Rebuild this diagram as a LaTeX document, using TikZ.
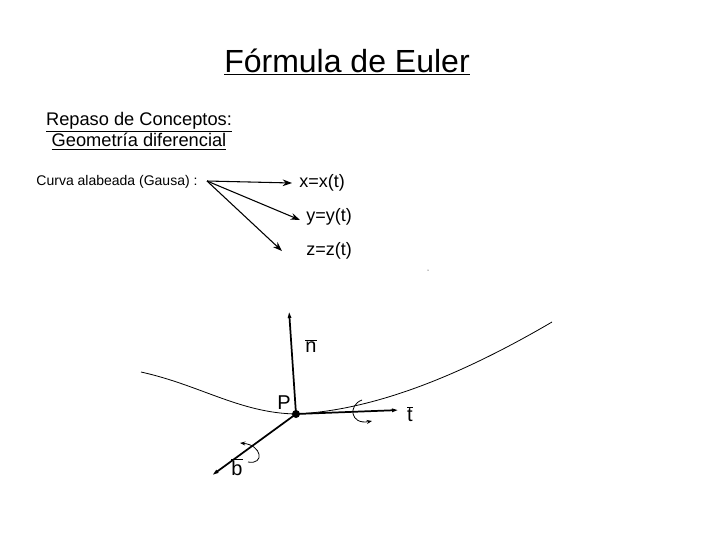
\documentclass[tikz,border=0pt]{standalone}
\usepackage{fontspec}
\setmainfont{Liberation Sans}
\usetikzlibrary{arrows.meta}
\begin{document}
\begin{tikzpicture}[x=0.75pt,y=-0.75pt,
  arr/.style={-{Stealth[length=7pt,width=5pt]},line width=0.8pt},
  vec/.style={-{Latex[length=6pt,width=3pt]},line width=1.3pt},
  lbl/.style={inner sep=0pt,font=\fontsize{13.5}{13.5}\selectfont}]
\useasboundingbox (0,0) rectangle (720,540);
\node[inner sep=0pt,font=\fontsize{24}{24}\selectfont] (title) at (347,62) {\underline{Fórmula de Euler}};
\node[inner sep=0pt,align=center,font=\fontsize{13.7}{14}\selectfont] (rep) at (139,131) {\underline{Repaso de Conceptos:}\\\underline{Geometría diferencial}};
\node[inner sep=0pt,font=\fontsize{10.5}{11}\selectfont] (curva) at (117,182) {Curva alabeada (Gausa) :};
\coordinate (o) at (207,181);
\node[lbl] (x) at (322,183) {x=x(t)};
\node[lbl] (y) at (329,217) {y=y(t)};
\node[lbl] (z) at (329,251) {z=z(t)};
\draw[arr] (o) -- (292,183);
\draw[arr] (o) -- (300,220);
\draw[arr] (o) -- (282,251);
\fill (428,270) circle (0.5);
% curve
\draw[line width=0.6pt] (141,372) .. controls (200,385) and (240,413) .. (296,414)
  .. controls (380,410) and (470,370) .. (552,322);
\coordinate (P) at (296,414);
\fill (P) circle (4);
\draw[vec] (P) -- (289,310);
\draw[vec] (P) -- (400,410);
\draw[vec] (P) -- (211,476);
\node[lbl,font=\fontsize{15}{15}\selectfont] (n) at (311,346) {$\overline{\mbox{n}}$};
\node[lbl,font=\fontsize{15}{15}\selectfont] (t) at (410,414) {$\overline{\mbox{t}}$};
\node[lbl,font=\fontsize{15}{15}\selectfont] (b) at (237,467) {$\overline{\mbox{b}}$};
\node[lbl,font=\fontsize{15}{15}\selectfont] (p) at (284,403) {P};
% rotation arrows
\draw[line width=0.6pt,-{Stealth[length=4pt]}] (362,400) .. controls (348,405) and (350,425) .. (372,421);
\draw[line width=0.6pt,-{Stealth[length=4pt]}] (248,462) .. controls (265,465) and (262,445) .. (240,443);
\end{tikzpicture}
\end{document}
